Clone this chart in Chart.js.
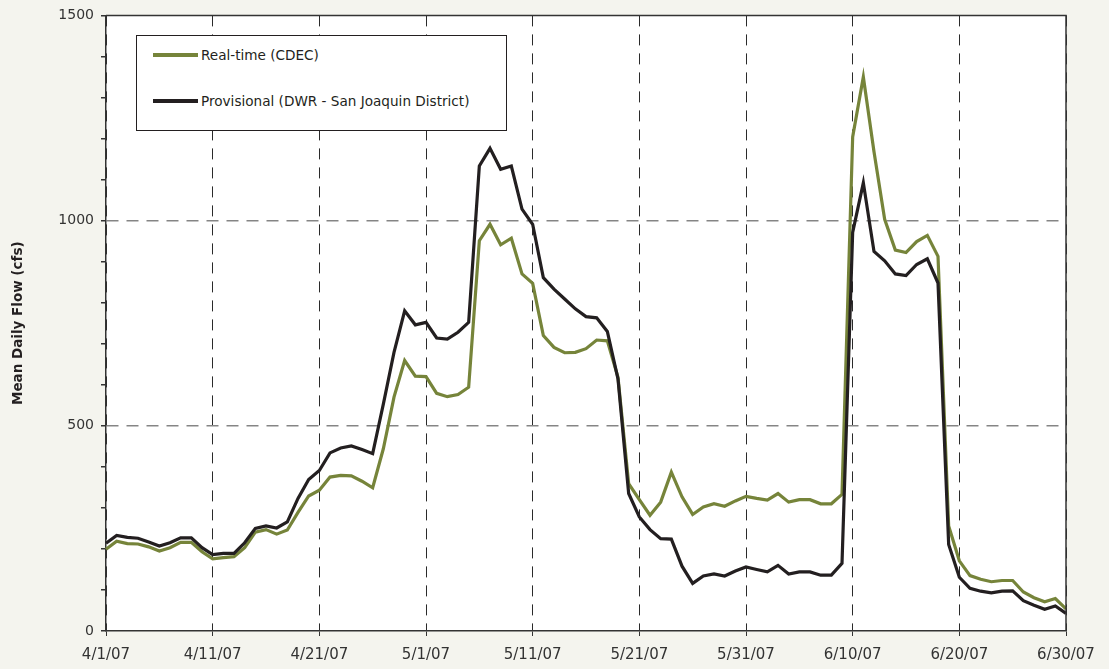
<!DOCTYPE html>
<html>
<head>
<meta charset="utf-8">
<script src="https://cdn.jsdelivr.net/npm/chart.js@4.4.0/dist/chart.umd.min.js"></script>
<style>
  html, body { margin: 0; padding: 0; background: #f4f4ee; }
  #wrap { position: relative; width: 1109px; height: 669px; }
  #legend {
    position: absolute; left: 136px; top: 35px; width: 369px; height: 94px;
    border: 1.5px solid #231f20; background: #fff;
    font: 13.6px "DejaVu Sans", sans-serif; color: #231f20;
  }
  .item { position: absolute; left: 16px; display: flex; align-items: center; height: 16px; }
  .swatch { width: 45px; height: 4px; margin-right: 3px; }
</style>
</head>
<body>
<div id="wrap">
  <canvas id="chart" width="1109" height="669"></canvas>
  <div id="legend">
    <div class="item" style="top: 11px"><span class="swatch" style="background:#76843a"></span>Real-time (CDEC)</div>
    <div class="item" style="top: 57px"><span class="swatch" style="background:#231f20"></span>Provisional (DWR - San Joaquin District)</div>
  </div>
</div>
<script>
// daily values 4/1/07 .. 6/30/07, cfs
const realtime = [
  199, 219, 213, 212, 205, 195, 203, 216, 216, 193,
  176, 179, 181, 203, 241, 247, 236, 246, 289, 329,
  343, 375, 379, 378, 365, 349, 444, 570, 659, 621,
  620, 579, 571, 576, 594, 951, 991, 941, 957, 870,
  847, 720, 691, 678, 679, 688, 709, 707, 618, 359,
  320, 282, 314, 387, 327, 284, 302, 310, 304, 317,
  328, 323, 319, 335, 314, 320, 320, 310, 310, 333,
  1204, 1350, 1168, 1003, 928, 922, 949, 964, 913, 256,
  171, 135, 126, 120, 123, 123, 95, 81, 71, 79,
  54
];
const provisional = [
  214, 233, 228, 226, 217, 207, 215, 227, 227, 203,
  186, 189, 189, 215, 250, 256, 251, 266, 323, 369,
  391, 434, 446, 451, 442, 432, 553, 679, 780, 746,
  752, 714, 711, 728, 752, 1133, 1176, 1125, 1133, 1028,
  991, 861, 833, 809, 785, 766, 763, 730, 614, 335,
  278, 247, 225, 224, 158, 116, 134, 139, 134, 146,
  156, 150, 144, 160, 139, 144, 144, 136, 136, 165,
  971, 1092, 925, 902, 870, 866, 893, 907, 848, 211,
  131, 104, 97, 93, 97, 98, 74, 63, 53, 61,
  43
];

const days = [];
for (let d = new Date(2007, 3, 1); d <= new Date(2007, 5, 30); d.setDate(d.getDate() + 1)) {
  days.push(`${d.getMonth() + 1}/${d.getDate()}/07`);
}

const yMajor = [0, 500, 1000, 1500];
const axisColor = '#333333';
const family = '"DejaVu Sans", sans-serif';

const plotFrame = {
  id: 'plotFrame',
  beforeDraw(chart) {
    const { ctx, chartArea: a } = chart;
    ctx.save();
    ctx.fillStyle = '#ffffff';
    ctx.fillRect(a.left, a.top, a.right - a.left, a.bottom - a.top);
    ctx.restore();
  },
  afterDraw(chart) {
    const { ctx, chartArea: a } = chart;
    ctx.save();
    ctx.strokeStyle = axisColor;
    ctx.lineWidth = 1.5;
    ctx.beginPath();
    ctx.moveTo(a.left, a.top);
    ctx.lineTo(a.right, a.top);
    ctx.lineTo(a.right, a.bottom);
    ctx.stroke();
    ctx.restore();
  }
};

new Chart(document.getElementById('chart'), {
  type: 'line',
  data: {
    labels: days,
    datasets: [
      { label: 'Real-time (CDEC)', data: realtime, borderColor: '#76843a', borderWidth: 3.2, pointRadius: 0, tension: 0, order: 1 },
      { label: 'Provisional (DWR - San Joaquin District)', data: provisional, borderColor: '#231f20', borderWidth: 3.2, pointRadius: 0, tension: 0, order: 0 }
    ]
  },
  options: {
    responsive: false,
    animation: false,
    layout: { padding: { top: 14, right: 43, left: 0, bottom: 0 } },
    plugins: { legend: { display: false }, tooltip: { enabled: false } },
    scales: {
      x: {
        offset: false,
        afterFit: (s) => { s.height = 38; },
        border: { color: axisColor, width: 1.5, dash: [11, 8] },
        grid: { color: '#2a2a2a', lineWidth: 1, tickColor: axisColor, tickLength: 5, tickBorderDash: [] },
        ticks: {
          autoSkip: false, maxRotation: 0, color: axisColor, font: { family, size: 15 }, padding: 10,
          callback(v, i) { return i % 10 === 0 ? days[i] : null; }
        }
      },
      y: {
        min: 0, max: 1500,
        afterFit: (s) => { s.width = 106; },
        border: { color: axisColor, width: 1.5, dash: [12, 8] },
        grid: {
          color: (c) => (c.tick.value === 500 || c.tick.value === 1000) ? '#858585' : 'rgba(0,0,0,0)',
          lineWidth: 1.5, tickColor: axisColor, tickLength: 5, tickBorderDash: []
        },
        ticks: {
          stepSize: 100, color: axisColor, font: { family, size: 14 }, padding: 7,
          callback: (v) => yMajor.includes(v) ? String(v) : ''
        },
        title: {
          display: true, text: 'Mean Daily Flow (cfs)', color: '#231f20',
          font: { family, size: 13.5, weight: 'bold' },
          padding: { top: 10, bottom: 0 }
        }
      }
    }
  },
  plugins: [plotFrame]
});
</script>
</body>
</html>
